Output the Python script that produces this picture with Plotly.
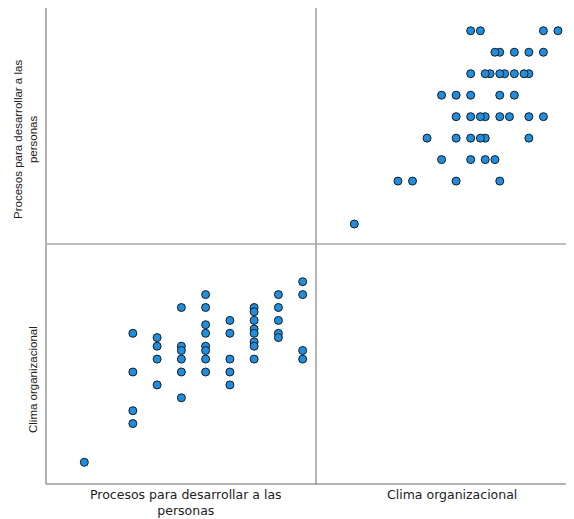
import plotly.graph_objects as go

# Paired observations (Procesos para desarrollar a las personas, Clima organizacional)
procesos = [30,
            32, 32, 32, 32,
            33, 33, 33, 33,
            34, 34, 34, 34, 34, 34,
            35, 35, 35, 35, 35, 35, 35, 35,
            36, 36, 36, 36, 36,
            37, 37, 37, 37, 37, 37, 37, 37,
            38, 38, 38, 38, 38,
            39, 39, 39, 39]
clima = [125,
         155, 146, 137, 134,
         154, 152, 149, 143,
         161, 152, 151, 149, 146, 140,
         164, 161, 157, 155, 152, 151, 149, 146,
         158, 155, 149, 146, 143,
         161, 160, 158, 156, 155, 153, 152, 149,
         164, 161, 158, 155, 154,
         167, 164, 151, 149]

label_p = "Procesos para desarrollar a las<br>personas"
label_c = "Clima organizacional"

OFF = 8  # page body margin
W, H = 574 - OFF, 519 - OFF
L, R, T, B = 46 - OFF, 1, 8 - OFF, 519 - 484
pw, ph = W - L - R, H - T - B
xmid = (316 - 46) / pw
ymid = (484 - 244) / ph

fig = go.Figure()
marker = dict(size=8, color="#1a8fe3", line=dict(color="#1b1b1b", width=1))
# top-right: x = Clima, y = Procesos
fig.add_trace(go.Scatter(x=clima, y=procesos, mode="markers", marker=marker,
                         xaxis="x2", yaxis="y2", hoverinfo="skip", cliponaxis=False))
# bottom-left: x = Procesos, y = Clima
fig.add_trace(go.Scatter(x=procesos, y=clima, mode="markers", marker=marker,
                         xaxis="x", yaxis="y", hoverinfo="skip", cliponaxis=False))

ax = dict(showgrid=False, zeroline=False, showticklabels=False, showline=False, ticks="")
fig.update_layout(
    width=W, height=H, showlegend=False,
    margin=dict(l=L, r=R, t=T, b=B, pad=0),
    paper_bgcolor="white", plot_bgcolor="white",
    xaxis=dict(ax, domain=[0, xmid], range=[28.42, 39.55], anchor="y"),
    yaxis=dict(ax, domain=[0, ymid], range=[119.95, 175.77], anchor="x"),
    xaxis2=dict(ax, domain=[xmid, 1], range=[117.1, 170.1], anchor="y2"),
    yaxis2=dict(ax, domain=[ymid, 1], range=[29.07, 40.06], anchor="x2"),
)

def line(x0, y0, x1, y1, color, width):
    fig.add_shape(type="line", xref="paper", yref="paper", x0=x0, y0=y0, x1=x1, y1=y1,
                  line=dict(color=color, width=width), layer="below")

line(0, 0, 0, 1, "#9a9a9a", 1.5)
line(0, 0, 1, 0, "#9a9a9a", 1.5)
line(xmid, 0, xmid, 1, "#6a6a6a", 1)
line(0, ymid, 1, ymid, "#a8a8a8", 1.5)

font_h = dict(family="DejaVu Sans, Liberation Sans, sans-serif", size=12.5, color="#222222")
font_v = dict(family="Liberation Sans, Arial, sans-serif", size=11.5, color="#222222")

# page pixel -> paper fraction
def px_x(x):
    return (x - OFF - L) / pw

def px_y(y):
    return (H - B - (y - OFF)) / ph

fig.add_annotation(text=label_p, x=px_x(185.5), y=px_y(502), xref="paper", yref="paper",
                   showarrow=False, font=font_h, xanchor="center", yanchor="middle")
fig.add_annotation(text=label_c, x=px_x(451.5), y=px_y(495), xref="paper", yref="paper",
                   showarrow=False, font=font_h, xanchor="center", yanchor="middle")
fig.add_annotation(text=label_p, x=px_x(25), y=px_y(140), xref="paper", yref="paper",
                   showarrow=False, font=font_v, textangle=-90, xanchor="center", yanchor="middle")
fig.add_annotation(text=label_c, x=px_x(33), y=px_y(380), xref="paper", yref="paper",
                   showarrow=False, font=font_v, textangle=-90, xanchor="center", yanchor="middle")

fig.write_html("out.html")
